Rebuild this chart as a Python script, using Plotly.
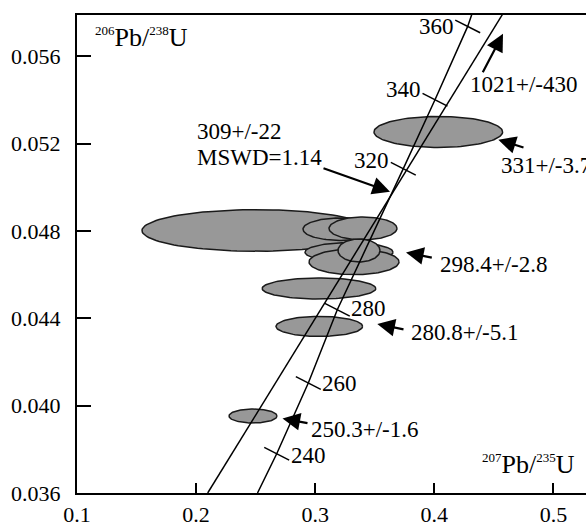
import numpy as np
import plotly.graph_objects as go

# ---------------- data ----------------
# Concordia curve (207Pb/235U, 206Pb/238U)
conc_x = [0.25155, 0.26768, 0.29421, 0.31855, 0.37397, 0.40059, 0.42804, 0.43140]
conc_y = [0.03600, 0.037800, 0.041039, 0.044397, 0.050856, 0.054017, 0.057374, 0.05791]
# Concordia age ticks
tick_ages = ["240", "260", "280", "320", "340", "360"]
tick_x = [0.26768, 0.29421, 0.31855, 0.37397, 0.40059, 0.42804]
tick_y = [0.037800, 0.041039, 0.044397, 0.050856, 0.054017, 0.057374]

# Discordia line
disc_x = [0.20974, 0.45710]
disc_y = [0.03600, 0.05791]

# Error ellipses: centre, half-widths
ell_cx = [0.25071, 0.32082, 0.34013, 0.32838, 0.33258, 0.33678, 0.30319, 0.30344, 0.24778, 0.40336]
ell_cy = [0.048025, 0.048084, 0.048121, 0.047031, 0.046587, 0.047109, 0.045368, 0.043632, 0.039527, 0.052541]
ell_rx = [0.09614, 0.03107, 0.02855, 0.03694, 0.03778, 0.01763, 0.04769, 0.03636, 0.02015, 0.05399]
ell_ry = [0.000953, 0.000513, 0.000522, 0.000435, 0.000586, 0.000527, 0.000481, 0.000458, 0.000321, 0.000710]

# Age annotations (text, arrow tip, arrow tail)
age_text = ["309+/-22", "1021+/-430", "331+/-3.7", "298.4+/-2.8", "280.8+/-5.1", "250.3+/-1.6"]
arrow_tip_x = [0.36281, 0.45768, 0.45374, 0.37624, 0.35214, 0.27255]
arrow_tip_y = [0.049802, 0.057040, 0.052184, 0.047022, 0.043742, 0.039413]
arrow_tail_x = [0.30571, 0.44005, 0.47615, 0.39916, 0.37540, 0.29479]
arrow_tail_y = [0.050901, 0.055208, 0.051804, 0.046765, 0.043481, 0.039188]
mswd_text = "MSWD=1.14"

x_ticks = [0.1, 0.2, 0.3, 0.4, 0.5]
y_ticks = [0.036, 0.040, 0.044, 0.048, 0.052, 0.056]

# ---------------- layout helpers ----------------
W, H = 586, 525
ML, MR, MT, MB = 77, 0, 15, 32
PX_X = 1191.0      # pixels per unit on x
PX_Y = 21830.0     # pixels per unit on y
x_range = [0.1, 0.1 + (W - ML - MR) / PX_X]
y_range = [0.036, 0.036 + (H - MT - MB) / PX_Y]

FONT = "Liberation Serif"
FS = 23

# convert reference-picture pixels to data coordinates
def px2x(px):
    return x_range[0] + (px - ML) / PX_X

def px2y(py):
    return y_range[0] + (H - MB - py) / PX_Y

fig = go.Figure()

# ellipses
theta = np.linspace(0, 2 * np.pi, 120)
for cx, cy, rx, ry in zip(ell_cx, ell_cy, ell_rx, ell_ry):
    fig.add_trace(go.Scatter(
        x=cx + rx * np.cos(theta), y=cy + ry * np.sin(theta),
        mode="lines", fill="toself", fillcolor="#989898",
        line=dict(color="#1a1a1a", width=1.5), hoverinfo="skip"))

# concordia & discordia
fig.add_trace(go.Scatter(x=conc_x, y=conc_y, mode="lines",
                         line=dict(color="black", width=1.5), hoverinfo="skip"))
fig.add_trace(go.Scatter(x=disc_x, y=disc_y, mode="lines",
                         line=dict(color="black", width=1.5), hoverinfo="skip"))
# age ticks on concordia
fig.add_trace(go.Scatter(x=tick_x, y=tick_y, mode="markers",
                         marker=dict(symbol="line-ew", size=20, angle=27,
                                     line=dict(color="black", width=1.5)),
                         hoverinfo="skip"))

annotations = []
# concordia tick labels
tick_side = ["r", "r", "r", "l", "l", "l"]
tick_yshift = [-2, 0, 1, 8, 10, 0]
for lab, tx, ty, side, ys in zip(tick_ages, tick_x, tick_y, tick_side, tick_yshift):
    annotations.append(dict(
        x=tx, y=ty, text=lab, showarrow=False,
        xanchor="left" if side == "r" else "right", yanchor="middle",
        xshift=12 if side == "r" else -12, yshift=ys,
        font=dict(family=FONT, size=FS, color="black")))

# arrows
for tx, ty, ax, ay in zip(arrow_tip_x, arrow_tip_y, arrow_tail_x, arrow_tail_y):
    annotations.append(dict(
        x=tx, y=ty, ax=ax, ay=ay, xref="x", yref="y", axref="x", ayref="y",
        text="", showarrow=True, arrowhead=2, arrowsize=1.6, arrowwidth=2.2,
        arrowcolor="black", standoff=0, startstandoff=0))

# age labels (left edge px, centre y px in the reference picture)
label_px = [(195, 131), (468, 84), (499, 165), (438, 264), (409, 332.5), (309, 429)]
for t, (lx, ly) in zip(age_text, label_px):
    annotations.append(dict(
        x=px2x(lx), y=px2y(ly), text=t, showarrow=False,
        xanchor="left", yanchor="middle",
        font=dict(family=FONT, size=FS, color="black")))
annotations.append(dict(
    x=px2x(195), y=px2y(157), text=mswd_text, showarrow=False,
    xanchor="left", yanchor="middle",
    font=dict(family=FONT, size=FS, color="black")))

# axis titles inside the plot
sup = "<sup><span style='font-size:13px'>{}</span></sup>"
annotations.append(dict(
    x=px2x(93), y=px2y(54), text=sup.format("206") + "Pb/" + sup.format("238") + "U",
    showarrow=False, xanchor="left", yanchor="bottom",
    font=dict(family=FONT, size=26, color="black")))
annotations.append(dict(
    x=px2x(480), y=px2y(481), text=sup.format("207") + "Pb/" + sup.format("235") + "U",
    showarrow=False, xanchor="left", yanchor="bottom",
    font=dict(family=FONT, size=26, color="black")))

fig.update_layout(
    width=W, height=H,
    margin=dict(l=ML, r=MR, t=MT, b=MB, pad=0),
    plot_bgcolor="white", paper_bgcolor="white",
    showlegend=False,
    font=dict(family=FONT, size=FS, color="black"),
    annotations=annotations,
    xaxis=dict(range=x_range, tickvals=x_ticks, ticktext=[f"{v:.1f}" for v in x_ticks],
               ticks="inside", ticklen=10, tickwidth=2, tickcolor="black",
               showline=True, linewidth=2, linecolor="black", mirror=True,
               showgrid=False, zeroline=False, ticklabelstandoff=1, automargin=False,
               tickfont=dict(family=FONT, size=22, color="black")),
    yaxis=dict(range=y_range, tickvals=y_ticks, ticktext=[f"{v:.3f}" for v in y_ticks],
               ticks="inside", ticklen=14, tickwidth=2, tickcolor="black",
               showline=True, linewidth=2, linecolor="black", mirror=False,
               showgrid=False, zeroline=False, ticklabelstandoff=10, automargin=False,
               tickfont=dict(family=FONT, size=22, color="black")),
)

fig.write_html(
    "out.html",
    config={"displayModeBar": False},
    post_script="document.body.style.margin='0px';document.body.style.overflow='hidden';",
)
